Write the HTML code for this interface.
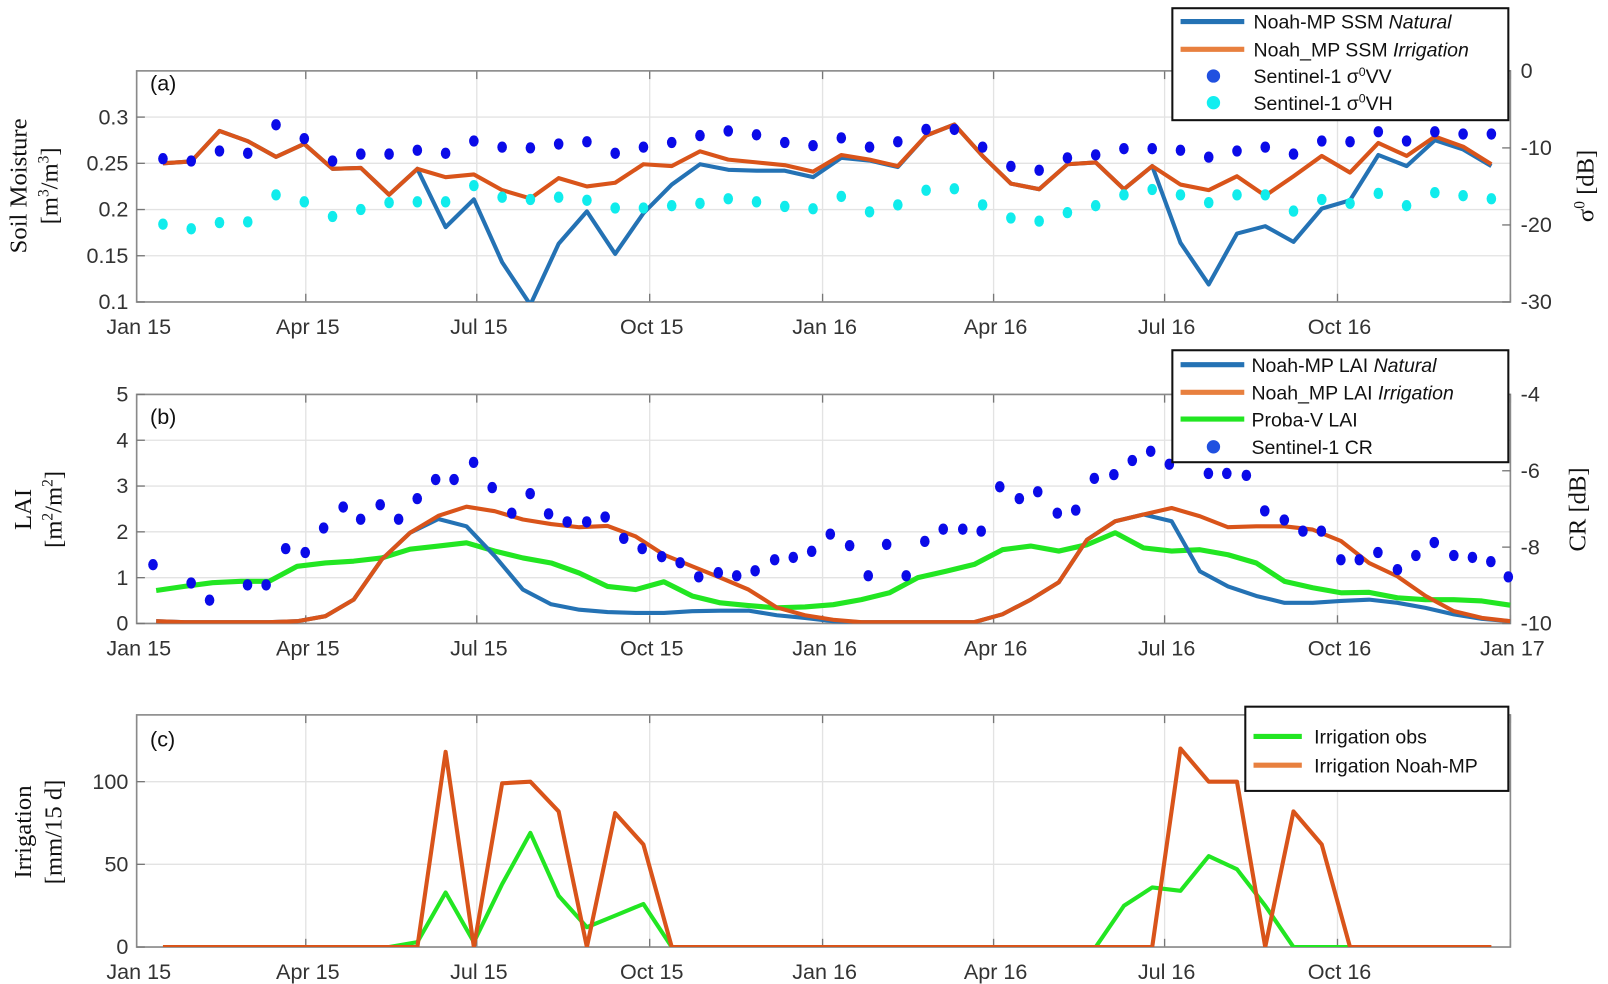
<!DOCTYPE html>
<html><head><meta charset="utf-8">
<style>
html,body{margin:0;padding:0;background:#fff;}
svg{display:block;}
text{font-family:"Liberation Sans",sans-serif;}
.tick{font-size:21px;fill:#333;}
.serif{font-family:"Liberation Serif",serif;font-size:24px;fill:#111;}
.leg{font-size:19px;fill:#111;}
</style></head>
<body>
<svg id="fig" width="1608" height="984" viewBox="0 0 1565 958" preserveAspectRatio="none" xmlns="http://www.w3.org/2000/svg"></svg>
<script>
// ---------- DATA ----------
const ssmIrr=[0.250,0.252,0.285,0.274,0.257,0.271,0.244,0.245,0.216,0.244,0.235,0.238,0.221,0.212,0.234,0.225,0.229,0.249,0.247,0.263,0.254,0.251,0.248,0.241,0.259,0.254,0.247,0.280,0.292,0.258,0.228,0.222,0.249,0.251,0.222,0.247,0.227,0.221,0.236,0.215,0.236,0.258,0.240,0.272,0.258,0.279,0.268,0.249];
const ssmNat=[0.250,0.252,0.285,0.274,0.257,0.271,0.244,0.245,0.216,0.244,0.181,0.211,0.143,0.097,0.163,0.198,0.152,0.196,0.227,0.249,0.243,0.242,0.242,0.235,0.256,0.253,0.246,0.280,0.292,0.258,0.228,0.222,0.249,0.251,0.222,0.247,0.164,0.119,0.174,0.182,0.165,0.201,0.210,0.259,0.247,0.275,0.265,0.247];
const vvDb=[-11.4,-11.7,-10.4,-10.7,-7.0,-8.8,-11.7,-10.8,-10.8,-10.3,-10.7,-9.1,-9.9,-10.0,-9.5,-9.2,-10.7,-9.9,-9.3,-8.4,-7.8,-8.3,-9.3,-9.7,-8.7,-9.9,-9.2,-7.6,-7.6,-9.9,-12.4,-12.9,-11.3,-10.9,-10.1,-10.1,-10.3,-11.2,-10.4,-9.9,-10.8,-9.1,-9.2,-7.9,-9.1,-7.9,-8.2,-8.2];
const vhDb=[-19.9,-20.5,-19.7,-19.6,-16.1,-17.0,-18.9,-18.0,-17.1,-17.0,-17.0,-14.9,-16.4,-16.7,-16.4,-16.8,-17.8,-17.8,-17.5,-17.2,-16.6,-17.0,-17.6,-17.9,-16.3,-18.3,-17.4,-15.5,-15.3,-17.4,-19.1,-19.5,-18.4,-17.5,-16.1,-15.4,-16.1,-17.1,-16.1,-16.1,-18.2,-16.7,-17.2,-15.9,-17.5,-15.8,-16.2,-16.6];
const laiIrr=[0.05,0.03,0.03,0.03,0.03,0.05,0.16,0.52,1.4,1.98,2.35,2.55,2.45,2.27,2.17,2.1,2.13,1.9,1.5,1.25,1.0,0.74,0.35,0.18,0.08,0.03,0.03,0.03,0.03,0.03,0.2,0.52,0.9,1.83,2.23,2.38,2.52,2.34,2.1,2.12,2.12,2.05,1.8,1.32,1.03,0.6,0.27,0.12,0.05];
const laiNat=[0.05,0.03,0.03,0.03,0.03,0.05,0.16,0.52,1.4,1.98,2.28,2.12,1.47,0.74,0.42,0.3,0.25,0.23,0.23,0.27,0.28,0.28,0.18,0.12,0.05,0.03,0.03,0.03,0.03,0.03,0.2,0.52,0.9,1.83,2.23,2.38,2.23,1.14,0.81,0.6,0.45,0.45,0.49,0.52,0.45,0.34,0.2,0.1,0.05];
const laiProba=[0.72,0.81,0.89,0.92,0.92,1.25,1.32,1.36,1.43,1.62,1.69,1.76,1.58,1.43,1.32,1.1,0.81,0.74,0.91,0.6,0.45,0.39,0.34,0.36,0.41,0.52,0.67,1.0,1.14,1.29,1.61,1.69,1.58,1.72,1.98,1.65,1.58,1.61,1.5,1.32,0.92,0.78,0.67,0.68,0.56,0.52,0.52,0.49,0.4];
const crDays=[8.7,29.0,38.8,59.0,68.9,79.3,89.7,99.5,109.9,119.2,129.6,139.4,149.3,159.1,168.9,179.3,189.2,199.6,209.4,219.2,229.1,239.5,249.3,259.2,269.0,279.4,289.2,299.1,309.5,319.3,329.1,339.5,349.4,359.2,369.1,379.4,389.3,399.1,409.5,419.4,429.2,439.6,449.4,459.3,469.7,479.5,489.9,499.7,509.6,520.0,529.8,539.6,549.5,570.3,580.1,590.5,600.3,610.7,620.6,630.4,640.8,650.6,660.5,670.9,680.7,690.5,700.9,710.8,720.6,729.9];
const crDb=[-8.46,-8.94,-9.39,-8.99,-8.99,-8.04,-8.14,-7.50,-6.95,-7.27,-6.89,-7.27,-6.73,-6.23,-6.23,-5.78,-6.44,-7.11,-6.60,-7.13,-7.34,-7.34,-7.21,-7.77,-8.04,-8.25,-8.41,-8.78,-8.67,-8.75,-8.62,-8.33,-8.27,-8.11,-7.66,-7.96,-8.75,-7.93,-8.75,-7.85,-7.53,-7.53,-7.58,-6.42,-6.73,-6.55,-7.11,-7.03,-6.20,-6.10,-5.73,-5.49,-5.83,-6.07,-6.07,-6.12,-7.05,-7.29,-7.58,-7.58,-8.33,-8.33,-8.14,-8.59,-8.22,-7.88,-8.22,-8.27,-8.38,-8.78];
const irrModel=[0,0,0,0,0,0,0,0,0,0,118,0,99,100,82,0,81,62,0,0,0,0,0,0,0,0,0,0,0,0,0,0,0,0,0,0,120,100,100,0,82,62,0,0,0,0,0,0];
const irrObs=[0,0,0,0,0,0,0,0,0,3,33,3,38,69,31,12,19,26,0,0,0,0,0,0,0,0,0,0,0,0,0,0,0,0,25,36,34,55,47,25,0,0,0];
const xTickLabels=["Jan 15","Apr 15","Jul 15","Oct 15","Jan 16","Apr 16","Jul 16","Oct 16","Jan 17"];
const xTickDays=[0,90,181,273,365,456,547,639,731];

// ---------- SCALES ----------
const X0=133,X1=1470;
const xDay=d=>X0+d*(X1-X0)/731;
const semiDays=[];for(let i=0;i<48;i++)semiDays.push(14+15.04*i);
const laiDays=[];for(let i=0;i<49;i++)laiDays.push(10.4+15.01*i);
const lin=(d0,d1,r0,r1)=>v=>r0+(v-d0)*(r1-r0)/(d1-d0);
const ya=lin(0.1,0.35,294,69), yaR=lin(-30,0,294,69);
const yb=lin(0,5,607,384), ybR=lin(-10,-4,607,384);
const yc=lin(0,100,922,761);

const NS="http://www.w3.org/2000/svg";
const svg=document.getElementById('fig');
function mk(tag,attrs,parent,txt){const e=document.createElementNS(NS,tag);for(const k in attrs)e.setAttribute(k,attrs[k]);if(txt!==undefined)e.textContent=txt;(parent||svg).appendChild(e);return e;}

const defs=mk('defs',{});
[['ca',69,294],['cb',384,607],['cc',696,922]].forEach(([id,t,b])=>{const cp=mk('clipPath',{id:id},defs);mk('rect',{x:X0,y:t-4,width:X1-X0,height:b-t+4},cp);});

function panel(name,top,bot,yTicks,yFn,yFmt,rTicks,rFn,showJan17){
  const g=mk('g',{});
  
  
  yTicks.forEach(v=>{const y=yFn(v);const l=mk('line',{x1:X0,x2:X1,y1:y,y2:y,stroke:'#e3e3e3','stroke-width':1.3},g);});
  xTickDays.forEach((d,i)=>{const x=xDay(d);if(i>0&&i<8){const l=mk('line',{x1:x,x2:x,y1:top,y2:bot,stroke:'#e3e3e3','stroke-width':1.3},g);}
    if(i<8||showJan17){const t=mk('text',{x:x+2,y:bot+31,'text-anchor':'middle',class:'tick'},g,xTickLabels[i]);}
    mk('line',{x1:x,x2:x,y1:bot,y2:bot-8,stroke:'#777','stroke-width':1.3},g);mk('line',{x1:x,x2:x,y1:top,y2:top+8,stroke:'#777','stroke-width':1.3},g);});
  mk('rect',{x:X0,y:top,width:X1-X0,height:bot-top,fill:'none',stroke:'#8a8a8a','stroke-width':1.6},g);
  yTicks.forEach(v=>{const y=yFn(v);const t=mk('text',{x:X0-8,y:y+7,'text-anchor':'end',class:'tick'},g,yFmt(v));mk('line',{x1:X0,x2:X0+8,y1:y,y2:y,stroke:'#777','stroke-width':1.3},g);});
  if(rTicks)rTicks.forEach(v=>{const y=rFn(v);const t=mk('text',{x:X1+10,y:y+7,class:'tick'},g,String(v));mk('line',{x1:X1,x2:X1-8,y1:y,y2:y,stroke:'#777','stroke-width':1.3},g);});
  return g;
}
function line(days,vals,yFn,color,w,clip,name){
  const pts=vals.map((v,i)=>xDay(days[i]).toFixed(1)+','+yFn(v).toFixed(1)).join(' ');
  const p=mk('polyline',{points:pts,fill:'none',stroke:color,'stroke-width':w,'stroke-linejoin':'round','clip-path':'url(#'+clip+')'});
  
  
}
function dots(days,vals,yFn,color,r,name){
  const g=mk('g',{fill:color});
  
  
  vals.forEach((v,i)=>{const c=mk('ellipse',{cx:xDay(days[i]),cy:yFn(v),rx:r*0.85,ry:r},g);});
}
function ylabel(x,cy,l1,name){
  const t=mk('text',{transform:`translate(${x},${cy}) rotate(-90)`,'text-anchor':'middle',class:'serif'},svg);
  
  
  t.innerHTML=l1;
}

panel('panel-a',69,294,[0.1,0.15,0.2,0.25,0.3],ya,v=>String(+v.toFixed(2)),[0,-10,-20,-30],yaR,false);
line(semiDays,ssmNat,ya,'#2472b4',4,'ca','ssm-natural-line');
line(semiDays,ssmIrr,ya,'#d9541a',4,'ca','ssm-irrigation-line');
dots(semiDays,vvDb,yaR,'#0a0ae8',5.5,'vv-points');
dots(semiDays,vhDb,yaR,'#10ecec',5.5,'vh-points');

panel('panel-b',384,607,[0,1,2,3,4,5],yb,v=>String(v),[-4,-6,-8,-10],ybR,true);
line(laiDays,laiProba,yb,'#22e622',5,'cb','lai-probav-line');
line(laiDays,laiNat,yb,'#2472b4',4,'cb','lai-natural-line');
line(laiDays,laiIrr,yb,'#d9541a',4,'cb','lai-irrigation-line');
dots(crDays,crDb,ybR,'#0a0ae8',5.5,'cr-points');

panel('panel-c',696,922,[0,50,100],yc,v=>String(v),null,null,false);
line(semiDays.slice(0,irrObs.length),irrObs,yc,'#22e622',4,'cc','irrigation-obs-line');
line(semiDays,irrModel,yc,'#d9541a',4,'cc','irrigation-model-line');

[['(a)',88],['(b)',413],['(c)',727]].forEach(([s,y])=>{const t=mk('text',{x:146,y:y,style:'font-size:21px;fill:#111'},svg,s);});

ylabel(26,181,'Soil Moisture','y-axis-title-a');
ylabel(56,181,'[m<tspan dy="-9" font-size="15">3</tspan><tspan dy="9">/m</tspan><tspan dy="-9" font-size="15">3</tspan><tspan dy="9">]</tspan>','y-axis-unit-a');
ylabel(1551,181,'σ<tspan dy="-9" font-size="15">0</tspan><tspan dy="9"> [dB]</tspan>','right-axis-title-a');
ylabel(30,496,'LAI','y-axis-title-b');
ylabel(60,496,'[m<tspan dy="-9" font-size="15">2</tspan><tspan dy="9">/m</tspan><tspan dy="-9" font-size="15">2</tspan><tspan dy="9">]</tspan>','y-axis-unit-b');
ylabel(1543,496,'CR [dB]','right-axis-title-b');
ylabel(30,810,'Irrigation','y-axis-title-c');
ylabel(60,810,'[mm/15 d]','y-axis-unit-c');

function legend(name,x,y,w,h,lineEnd,items){
  const g=mk('g',{});
  
  
  mk('rect',{x:x,y:y,width:w,height:h,fill:'#fff',stroke:'#111','stroke-width':2},g);
  items.forEach(it=>{
    const e=mk('g',{},g);
    
    
    if(it.type==='line')mk('line',{x1:x+8,x2:x+lineEnd,y1:it.y,y2:it.y,stroke:it.c,'stroke-width':5},e);
    else mk('circle',{cx:x+40,cy:it.y,r:6.5,fill:it.c},e);
    const t=mk('text',{x:x+it.tx,y:it.y+7,class:'leg'},e);
    t.innerHTML=it.t;
  });
}
legend('legend-a',1141,8,327,109,70,[
 {type:'line',c:'#2472b4',y:21,tx:79,t:'Noah-MP SSM <tspan font-style="italic">Natural</tspan>'},
 {type:'line',c:'#e8803f',y:48,tx:79,t:'Noah_MP SSM <tspan font-style="italic">Irrigation</tspan>'},
 {type:'dot',c:'#2050e0',y:74,tx:79,t:'Sentinel-1 σ<tspan dy="-7" font-size="12">0</tspan><tspan dy="7">VV</tspan>'},
 {type:'dot',c:'#12eef0',y:100,tx:79,t:'Sentinel-1 σ<tspan dy="-7" font-size="12">0</tspan><tspan dy="7">VH</tspan>'}]);
legend('legend-b',1141,341,327,109,70,[
 {type:'line',c:'#2472b4',y:355,tx:77,t:'Noah-MP LAI <tspan font-style="italic">Natural</tspan>'},
 {type:'line',c:'#e8803f',y:382,tx:77,t:'Noah_MP LAI <tspan font-style="italic">Irrigation</tspan>'},
 {type:'line',c:'#22e622',y:408,tx:77,t:'Proba-V LAI'},
 {type:'dot',c:'#2050e0',y:435,tx:77,t:'Sentinel-1 CR'}]);
legend('legend-c',1212,688,256,82,55,[
 {type:'line',c:'#22e622',y:717,tx:67,t:'Irrigation obs'},
 {type:'line',c:'#e8803f',y:745,tx:67,t:'Irrigation Noah-MP'}]);
</script>
</body></html>
